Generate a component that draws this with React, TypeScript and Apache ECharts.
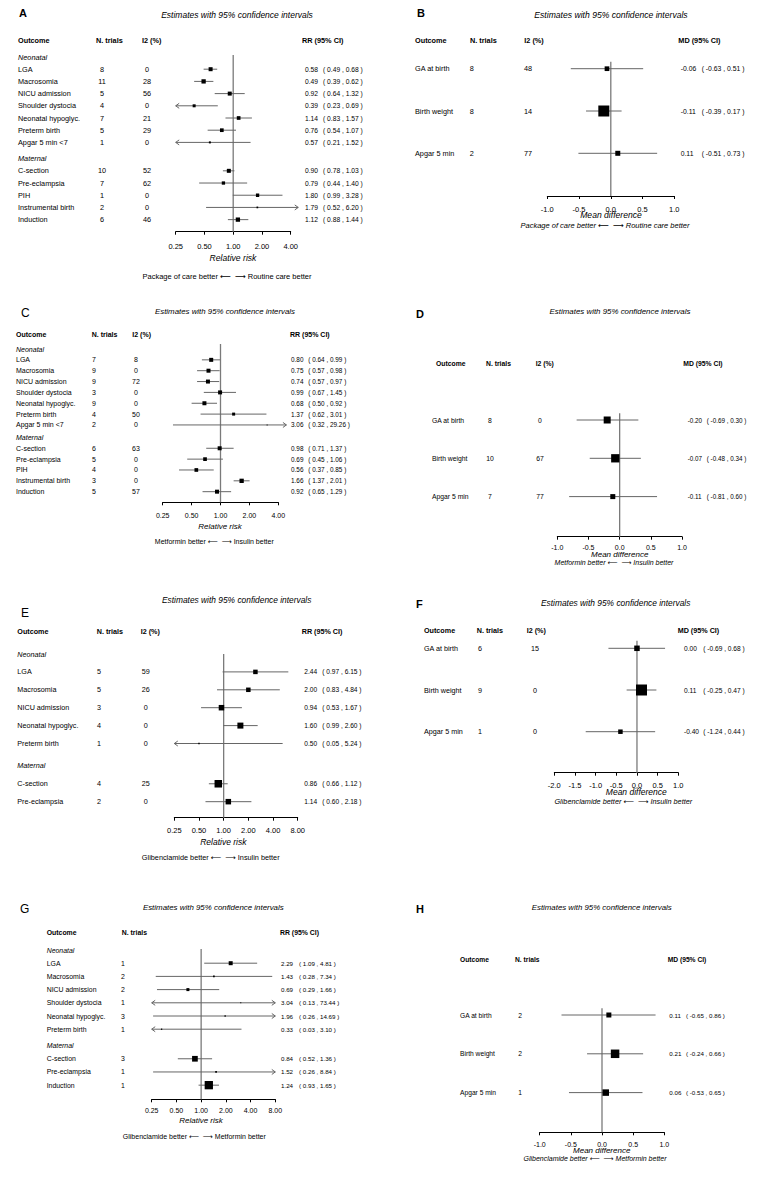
import React, { useEffect, useRef } from 'react';
import * as echarts from 'echarts';

const FONT = '"Liberation Sans", Arial, Helvetica, "DejaVu Sans", sans-serif';
const TITLE = 'Estimates with 95% confidence intervals';
const RR_SECTIONS = ['Neonatal', 'Maternal'];
const MD_OUTCOMES = ['GA at birth', 'Birth weight', 'Apgar 5 min'];

// ---- A: package of care vs routine care (RR)
const A_SECTION_SIZES = [7, 5];
const A_OUTCOMES = ['LGA', 'Macrosomia', 'NICU admission', 'Shoulder dystocia', 'Neonatal hypoglyc.', 'Preterm birth', 'Apgar 5 min <7', 'C-section', 'Pre-eclampsia', 'PIH', 'Instrumental birth', 'Induction'];
const A_TRIALS = [8, 11, 5, 4, 7, 5, 1, 10, 7, 1, 2, 6];
const A_I2 = [0, 28, 56, 0, 21, 29, 0, 52, 62, 0, 0, 46];
const A_EST = [0.58, 0.49, 0.92, 0.39, 1.14, 0.76, 0.57, 0.90, 0.79, 1.80, 1.79, 1.12];
const A_LO = [0.49, 0.39, 0.64, 0.23, 0.83, 0.54, 0.21, 0.78, 0.44, 0.99, 0.52, 0.88];
const A_HI = [0.68, 0.62, 1.32, 0.69, 1.57, 1.07, 1.52, 1.03, 1.40, 3.28, 6.20, 1.44];
const A_WEIGHT = [4, 4.3, 4, 3, 3.7, 3.7, 2, 4, 3.3, 3.3, 1.7, 4.3];

// ---- B: package of care vs routine care (MD)
const B_TRIALS = [8, 8, 2];
const B_I2 = [48, 14, 77];
const B_EST = [-0.06, -0.11, 0.11];
const B_LO = [-0.63, -0.39, -0.51];
const B_HI = [0.51, 0.17, 0.73];
const B_WEIGHT = [4.7, 11, 5];

// ---- C: metformin vs insulin (RR)
const C_SECTION_SIZES = [7, 5];
const C_OUTCOMES = ['LGA', 'Macrosomia', 'NICU admission', 'Shoulder dystocia', 'Neonatal hypoglyc.', 'Preterm birth', 'Apgar 5 min <7', 'C-section', 'Pre-eclampsia', 'PIH', 'Instrumental birth', 'Induction'];
const C_TRIALS = [7, 9, 9, 3, 9, 4, 2, 6, 5, 4, 3, 5];
const C_I2 = [8, 0, 72, 0, 0, 50, 0, 63, 0, 0, 0, 57];
const C_EST = [0.80, 0.75, 0.74, 0.99, 0.68, 1.37, 3.06, 0.98, 0.69, 0.56, 1.66, 0.92];
const C_LO = [0.64, 0.57, 0.57, 0.67, 0.50, 0.62, 0.32, 0.71, 0.45, 0.37, 1.37, 0.65];
const C_HI = [0.99, 0.98, 0.97, 1.45, 0.92, 3.01, 29.26, 1.37, 1.06, 0.85, 2.01, 1.29];
const C_WEIGHT = [4, 4, 4, 4, 4, 3, 1, 4, 3.7, 3.7, 4.3, 4];

// ---- D: metformin vs insulin (MD)
const D_TRIALS = [8, 10, 7];
const D_I2 = [0, 67, 77];
const D_EST = [-0.20, -0.07, -0.11];
const D_LO = [-0.69, -0.48, -0.81];
const D_HI = [0.30, 0.34, 0.60];
const D_WEIGHT = [7, 8.3, 5];

// ---- E: glibenclamide vs insulin (RR)
const E_SECTION_SIZES = [5, 2];
const E_OUTCOMES = ['LGA', 'Macrosomia', 'NICU admission', 'Neonatal hypoglyc.', 'Preterm birth', 'C-section', 'Pre-eclampsia'];
const E_TRIALS = [5, 5, 3, 4, 1, 4, 2];
const E_I2 = [59, 26, 0, 0, 0, 25, 0];
const E_EST = [2.44, 2.00, 0.94, 1.60, 0.50, 0.86, 1.14];
const E_LO = [0.97, 0.83, 0.53, 0.99, 0.05, 0.66, 0.60];
const E_HI = [6.15, 4.84, 1.67, 2.60, 5.24, 1.12, 2.18];
const E_WEIGHT = [4.5, 4.5, 5.5, 6, 1.5, 7.5, 5.5];

// ---- F: glibenclamide vs insulin (MD)
const F_TRIALS = [6, 9, 1];
const F_I2 = [15, 0, 0];
const F_EST = [0.00, 0.11, -0.40];
const F_LO = [-0.69, -0.25, -1.24];
const F_HI = [0.68, 0.47, 0.44];
const F_WEIGHT = [5.5, 11, 4.5];

// ---- G: glibenclamide vs metformin (RR)
const G_SECTION_SIZES = [6, 3];
const G_OUTCOMES = ['LGA', 'Macrosomia', 'NICU admission', 'Shoulder dystocia', 'Neonatal hypoglyc.', 'Preterm birth', 'C-section', 'Pre-eclampsia', 'Induction'];
const G_TRIALS = [1, 2, 2, 1, 3, 1, 3, 1, 1];
const G_EST = [2.29, 1.43, 0.69, 3.04, 1.96, 0.33, 0.84, 1.52, 1.24];
const G_LO = [1.09, 0.28, 0.29, 0.13, 0.26, 0.03, 0.52, 0.26, 0.93];
const G_HI = [4.81, 7.34, 1.66, 73.44, 14.69, 3.10, 1.36, 8.84, 1.65];
const G_WEIGHT = [4, 1.7, 3, 1, 1.3, 1.3, 5.7, 1.7, 8.3];

// ---- H: glibenclamide vs metformin (MD)
const H_TRIALS = [2, 2, 1];
const H_EST = [0.11, 0.21, 0.06];
const H_LO = [-0.65, -0.24, -0.53];
const H_HI = [0.86, 0.66, 0.65];
const H_WEIGHT = [5, 8.5, 6.5];

const ARROWS = '\u27F5  \u27F6';

type Layout = any;

const PANELS: any[] = [
  {
    letter: 'A', measure: 'RR', sections: RR_SECTIONS, sectionSizes: A_SECTION_SIZES,
    outcomes: A_OUTCOMES, trials: A_TRIALS, i2: A_I2, est: A_EST, lo: A_LO, hi: A_HI, weight: A_WEIGHT,
    better: `Package of care better ${ARROWS} Routine care better`,
    L: { left: 175.7, right: 290.7, top: 55, axisY: 231.7, firstY: 57, step: 12.2, gap: 0.33, xMin: -2, xMax: 2, clipHi: Math.log2(4.8),
      colOutcome: 18, colN: 102, colI2: 147, colEst: 305, colCI: 323,
      headY: 40, headOutcome: 18, headN: 96, headI2: 142, headEst: 302,
      letterX: 19, letterY: 13, letterBold: true, fLetter: 11, titleX: 237, titleY: 15, tickY: 246, nameX: 233, nameY: 257.7, betterX: 227, betterY: 276, betterItalic: false,
      fRow: 7.3, fEst: 6.7, fTitle: 8.5, fTick: 7.5, fName: 8.6, fBetter: 7.5 },
  },
  {
    letter: 'B', measure: 'MD',
    outcomes: MD_OUTCOMES, trials: B_TRIALS, i2: B_I2, est: B_EST, lo: B_LO, hi: B_HI, weight: B_WEIGHT,
    better: `Package of care better ${ARROWS} Routine care better`,
    L: { left: 547.3, right: 674.3, top: 61.7, axisY: 196, firstY: 68.7, step: 42.3, xMin: -1, xMax: 1, clipHi: 1,
      colOutcome: 415, colN: 471.7, colI2: 528, colEst: 680.7, colCI: 701.7,
      headY: 40, headOutcome: 415, headN: 470, headI2: 524.3, headEst: 678.3,
      letterX: 417, letterY: 13, letterBold: true, fLetter: 11, titleX: 611, titleY: 15, tickY: 209.3, nameX: 611, nameY: 215, betterX: 605, betterY: 225, betterItalic: true,
      fRow: 7.3, fEst: 6.8, fTitle: 8.6, fTick: 7.5, fName: 8.6, fBetter: 7.5 },
  },
  {
    letter: 'C', measure: 'RR', sections: RR_SECTIONS, sectionSizes: C_SECTION_SIZES,
    outcomes: C_OUTCOMES, trials: C_TRIALS, i2: C_I2, est: C_EST, lo: C_LO, hi: C_HI, weight: C_WEIGHT,
    better: `Metformin better ${ARROWS} Insulin better`,
    L: { left: 162.7, right: 278.3, top: 344, axisY: 502.3, firstY: 349, step: 10.85, gap: 0.15, xMin: -2, xMax: 2, clipHi: Math.log2(4.86),
      colOutcome: 16, colN: 94, colI2: 136, colEst: 291, colCI: 308.3,
      headY: 334, headOutcome: 16, headN: 91.7, headI2: 132.3, headEst: 290,
      letterX: 21, letterY: 313, letterBold: false, fLetter: 12, titleX: 225, titleY: 311, tickY: 515.7, nameX: 220, nameY: 526, betterX: 214.3, betterY: 541.7, betterItalic: false,
      fRow: 7, fEst: 6.4, fTitle: 7.85, fTick: 7, fName: 8, fBetter: 7 },
  },
  {
    letter: 'D', measure: 'MD',
    outcomes: MD_OUTCOMES, trials: D_TRIALS, i2: D_I2, est: D_EST, lo: D_LO, hi: D_HI, weight: D_WEIGHT,
    better: `Metformin better ${ARROWS} Insulin better`,
    L: { left: 557.3, right: 682, top: 413.3, axisY: 536.7, firstY: 420, step: 38.3, xMin: -1, xMax: 1, clipHi: 1,
      colOutcome: 432, colN: 490, colI2: 540, colEst: 687.7, colCI: 706.7,
      headY: 363.3, headOutcome: 436, headN: 486, headI2: 535.7, headEst: 683.3,
      letterX: 416, letterY: 314, letterBold: true, fLetter: 11, titleX: 620, titleY: 311.7, tickY: 547.7, nameX: 619.7, nameY: 554.3, betterX: 614, betterY: 562.7, betterItalic: true,
      fRow: 6.8, fEst: 6.3, fTitle: 7.9, fTick: 7, fName: 8, fBetter: 7 },
  },
  {
    letter: 'E', measure: 'RR', sections: RR_SECTIONS, sectionSizes: E_SECTION_SIZES,
    outcomes: E_OUTCOMES, trials: E_TRIALS, i2: E_I2, est: E_EST, lo: E_LO, hi: E_HI, weight: E_WEIGHT,
    better: `Glibenclamide better ${ARROWS} Insulin better`,
    L: { left: 174.3, right: 297.7, top: 654, axisY: 817.7, firstY: 654, step: 17.9, gap: 0.25, xMin: -2, xMax: 3, clipHi: 3,
      colOutcome: 17.3, colN: 99, colI2: 145.7, colEst: 304.3, colCI: 322.3,
      headY: 631, headOutcome: 17.3, headN: 96.7, headI2: 140.7, headEst: 301.7,
      letterX: 21, letterY: 613, letterBold: false, fLetter: 12, titleX: 236.7, titleY: 600, tickY: 830.7, nameX: 223.3, nameY: 842, betterX: 210.7, betterY: 857.3, betterItalic: false,
      fRow: 7.2, fEst: 6.6, fTitle: 8.4, fTick: 7.5, fName: 8.5, fBetter: 7.3 },
  },
  {
    letter: 'F', measure: 'MD',
    outcomes: MD_OUTCOMES, trials: F_TRIALS, i2: F_I2, est: F_EST, lo: F_LO, hi: F_HI, weight: F_WEIGHT,
    better: `Glibenclamide better ${ARROWS} Insulin better`,
    L: { left: 554.3, right: 678.3, top: 640.7, axisY: 772.7, firstY: 648.3, step: 41.7, xMin: -2, xMax: 1, clipHi: 1,
      colOutcome: 424, colN: 480, colI2: 535, colEst: 684, colCI: 703.3,
      headY: 630, headOutcome: 424, headN: 476.7, headI2: 526.7, headEst: 677.7,
      letterX: 416, letterY: 604, letterBold: true, fLetter: 11, titleX: 615.7, titleY: 602.7, tickY: 785, nameX: 636.3, nameY: 792.3, betterX: 623.3, betterY: 801, betterItalic: true,
      fRow: 7.2, fEst: 6.6, fTitle: 8.4, fTick: 7.5, fName: 8.5, fBetter: 7.3 },
  },
  {
    letter: 'G', measure: 'RR', sections: RR_SECTIONS, sectionSizes: G_SECTION_SIZES,
    outcomes: G_OUTCOMES, trials: G_TRIALS, est: G_EST, lo: G_LO, hi: G_HI, weight: G_WEIGHT,
    better: `Glibenclamide better ${ARROWS} Metformin better`,
    L: { left: 151.7, right: 275.3, top: 949, axisY: 1099.3, firstY: 950, step: 13.2, gap: 0.24, xMin: -2, xMax: 3, clipHi: 3,
      colOutcome: 46.7, colN: 123, colEst: 281, colCI: 299,
      headY: 932.3, headOutcome: 46.7, headN: 121.7, headEst: 280,
      letterX: 20, letterY: 909, letterBold: false, fLetter: 12, titleX: 213.3, titleY: 907.3, tickY: 1110.7, nameX: 201, nameY: 1120.7, betterX: 194.3, betterY: 1136, betterItalic: false,
      fRow: 6.9, fEst: 6.2, fTitle: 7.9, fTick: 7, fName: 8, fBetter: 7 },
  },
  {
    letter: 'H', measure: 'MD',
    outcomes: MD_OUTCOMES, trials: H_TRIALS, est: H_EST, lo: H_LO, hi: H_HI, weight: H_WEIGHT,
    better: `Glibenclamide better ${ARROWS} Metformin better`,
    L: { left: 539.7, right: 664.3, top: 1008.3, axisY: 1132.3, firstY: 1015, step: 38.8, xMin: -1, xMax: 1, clipHi: 1,
      colOutcome: 460, colN: 520, colEst: 669.3, colCI: 686,
      headY: 959.3, headOutcome: 460, headN: 515, headEst: 667.7,
      letterX: 416, letterY: 909, letterBold: true, fLetter: 11, titleX: 601.7, titleY: 907.3, tickY: 1144, nameX: 601.7, nameY: 1150, betterX: 595, betterY: 1158.3, betterItalic: true,
      fRow: 6.7, fEst: 6.2, fTitle: 7.85, fTick: 7, fName: 8, fBetter: 7 },
  },
];

const LINE = '#666666';

function font(size: number, opts: { italic?: boolean; bold?: boolean } = {}) {
  return `${opts.italic ? 'italic ' : ''}${opts.bold ? 'bold ' : ''}${size}px ${FONT}`;
}

function txt(text: string, x: number, y: number, f: string, align = 'left', fill = '#000') {
  return {
    type: 'text', x, y, silent: true,
    style: { text, font: f, fill, align, textAlign: align, verticalAlign: 'middle', textVerticalAlign: 'middle' },
  };
}

function buildOption() {
  const grid: any[] = [];
  const xAxis: any[] = [];
  const yAxis: any[] = [];
  const series: any[] = [];
  const graphic: any[] = [];

  PANELS.forEach((p, idx) => {
    const L: Layout = p.L;
    const isLog = p.measure === 'RR';
    const tx = (v: number) => (isLog ? Math.log2(v) : v);

    const rowPos: number[] = [];
    const secPos: number[] = [];
    if (p.sectionSizes) {
      let pos = 0;
      p.sectionSizes.forEach((n: number, s: number) => {
        if (s > 0) pos += L.gap;
        secPos.push(pos);
        for (let k = 0; k < n; k++) { pos += 1; rowPos.push(pos); }
        pos += 1;
      });
    } else {
      p.outcomes.forEach((_: string, i: number) => rowPos.push(i));
    }

    const yMin = -(L.firstY - L.top) / L.step;
    const yMax = yMin + (L.axisY - L.top) / L.step;

    grid.push({ left: L.left, top: L.top, width: L.right - L.left, height: L.axisY - L.top, containLabel: false });
    xAxis.push({
      gridIndex: idx, type: 'value', min: L.xMin, max: L.xMax, interval: isLog ? 1 : 0.5,
      axisLine: { show: true, onZero: false, lineStyle: { color: '#000', width: 1 } },
      axisTick: { show: true, length: 3, lineStyle: { color: '#000', width: 1 } },
      axisLabel: {
        color: '#000', fontFamily: FONT, fontSize: L.fTick, margin: L.tickY - L.axisY - L.fTick / 2,
        formatter: isLog ? (v: number) => Math.pow(2, v).toFixed(2) : (v: number) => v.toFixed(1),
      },
      splitLine: { show: false },
    });
    yAxis.push({ gridIndex: idx, type: 'value', inverse: true, min: yMin, max: yMax, show: false });

    // reference line at null effect
    series.push({
      type: 'line', xAxisIndex: idx, yAxisIndex: idx, data: [[0, yMin], [0, yMax]],
      symbol: 'none', silent: true, z: 1, lineStyle: { color: '#7a7a7a', width: 1.3 },
    });

    const data = p.est.map((e: number, i: number) => [tx(e), rowPos[i], tx(p.lo[i]), tx(p.hi[i]), p.weight[i]]);
    series.push({
      type: 'custom', xAxisIndex: idx, yAxisIndex: idx, clip: false, silent: true, z: 3,
      encode: { x: [0, 2, 3], y: 1 },
      data,
      renderItem: (params: any, api: any) => {
        const i = params.dataIndex;
        const r = api.value(1);
        const y = api.coord([0, r])[1];
        const est = api.value(0);
        const lo = api.value(2);
        const hi = api.value(3);
        const s = api.value(4);
        const loC = Math.max(lo, L.xMin);
        const hiC = Math.min(hi, L.clipHi);
        const x1 = api.coord([loC, r])[0];
        const x2 = api.coord([hiC, r])[0];
        const cx = api.coord([est, r])[0];
        const children: any[] = [
          { type: 'line', shape: { x1, y1: y, x2, y2: y }, style: { stroke: LINE, lineWidth: 1 } },
        ];
        if (lo < L.xMin) {
          children.push({ type: 'polyline', shape: { points: [[x1 + 3.5, y - 2.5], [x1, y], [x1 + 3.5, y + 2.5]] }, style: { stroke: LINE, fill: 'none', lineWidth: 1 } });
        }
        if (hi > L.clipHi) {
          children.push({ type: 'polyline', shape: { points: [[x2 - 3.5, y - 2.5], [x2, y], [x2 - 3.5, y + 2.5]] }, style: { stroke: LINE, fill: 'none', lineWidth: 1 } });
        }
        children.push({ type: 'rect', shape: { x: cx - s / 2, y: y - s / 2, width: s, height: s }, style: { fill: '#000' } });
        const fr = font(L.fRow);
        const fe = font(L.fEst);
        children.push(txt(p.outcomes[i], L.colOutcome, y, fr));
        children.push(txt(String(p.trials[i]), L.colN, y, fr, 'center'));
        if (p.i2) children.push(txt(String(p.i2[i]), L.colI2, y, fr, 'center'));
        children.push(txt(p.est[i].toFixed(2), L.colEst, y, fe));
        children.push(txt(`( ${p.lo[i].toFixed(2)} , ${p.hi[i].toFixed(2)} )`, L.colCI, y, fe));
        return { type: 'group', children };
      },
    });

    if (p.sections) {
      series.push({
        type: 'custom', xAxisIndex: idx, yAxisIndex: idx, clip: false, silent: true, z: 3,
        encode: { x: 0, y: 1 },
        data: secPos.map((sp) => [0, sp]),
        renderItem: (params: any, api: any) => {
          const y = api.coord([0, api.value(1)])[1];
          return txt(p.sections[params.dataIndex], L.colOutcome, y, font(L.fRow, { italic: true }));
        },
      });
    }

    // static texts
    graphic.push(txt(p.letter, L.letterX, L.letterY, font(L.fLetter, { bold: L.letterBold })));
    graphic.push(txt(TITLE, L.titleX, L.titleY, font(L.fTitle, { italic: true }), 'center'));
    const fh = font(L.fRow, { bold: true });
    graphic.push(txt('Outcome', L.headOutcome, L.headY, fh));
    graphic.push(txt('N. trials', L.headN, L.headY, fh));
    if (p.i2) graphic.push(txt('I2 (%)', L.headI2, L.headY, fh));
    graphic.push(txt(isLog ? 'RR (95% CI)' : 'MD (95% CI)', L.headEst, L.headY, fh));
    graphic.push(txt(isLog ? 'Relative risk' : 'Mean difference', L.nameX, L.nameY, font(L.fName, { italic: true }), 'center'));
    graphic.push(txt(p.better, L.betterX, L.betterY, font(L.fBetter, { italic: L.betterItalic }), 'center'));
  });

  return {
    animation: false,
    backgroundColor: '#ffffff',
    grid, xAxis, yAxis, series, graphic,
  };
}

export default function App() {
  const ref = useRef<HTMLDivElement>(null);
  useEffect(() => {
    if (!ref.current) return;
    const chart = echarts.init(ref.current, undefined, { renderer: 'svg' });
    chart.setOption(buildOption() as any);
    return () => chart.dispose();
  }, []);
  return (
    <div
      ref={ref}
      style={{ position: 'absolute', left: 0, top: 0, width: 775, height: 1181, background: '#fff' }}
    />
  );
}
